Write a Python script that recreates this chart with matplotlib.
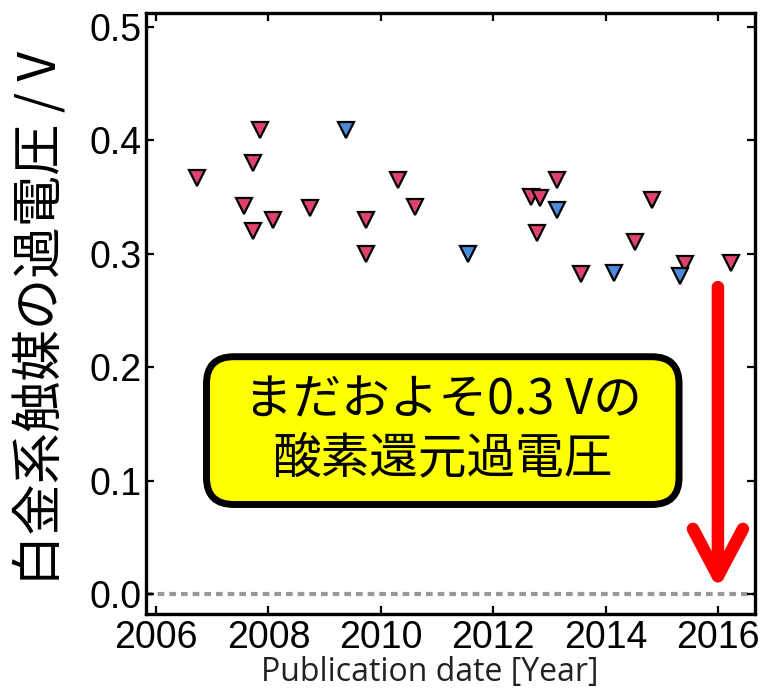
import matplotlib.pyplot as plt
from matplotlib.patches import FancyBboxPatch

# ---- data ----
pink_year = [2006.72, 2007.85, 2007.73, 2007.57, 2008.08, 2007.73, 2008.74,
             2010.31, 2010.61, 2009.74, 2009.74, 2013.13, 2012.67, 2012.83,
             2012.78, 2014.82, 2014.52, 2013.56, 2015.41, 2016.24]
pink_volt = [0.367, 0.409, 0.380, 0.342, 0.330, 0.320, 0.340,
             0.365, 0.341, 0.330, 0.300, 0.365, 0.350, 0.349,
             0.318, 0.347, 0.310, 0.282, 0.291, 0.292]
blue_year = [2009.38, 2011.55, 2013.13, 2014.15, 2015.32]
blue_volt = [0.409, 0.300, 0.338, 0.283, 0.280]

xticks = [2006, 2008, 2010, 2012, 2014, 2016]
yticks = [0.0, 0.1, 0.2, 0.3, 0.4, 0.5]
arrow_x = 2016
arrow_from = 0.2705
arrow_to = 0.004

ylabel = '白金系触媒の過電圧 / V'
xlabel = 'Publication date [Year]'
note = 'まだおよそ0.3 Vの\n酸素還元過電圧'

W, H = 767, 696
fig = plt.figure(figsize=(W / 100, H / 100), dpi=100)
ax = fig.add_axes([146 / W, 1 - 614 / H, 609 / W, 601 / H])

# zero line
ax.axhline(0.0, color='#999999', lw=3, linestyle=(0, (1.6, 1.2)), zorder=1)

ax.plot(pink_year, pink_volt, 'v', ms=12, mfc='#E0426E', mec='black', mew=1.6, zorder=3)
ax.plot(blue_year, blue_volt, 'v', ms=12, mfc='#4A8BDB', mec='black', mew=1.6, zorder=3)

ax.set_xlim(2005.82, 2016.66)
ax.set_ylim(-0.0176, 0.512)
ax.set_xticks(xticks)
ax.set_yticks(yticks)
ax.set_yticklabels([f'{v:.1f}' for v in yticks])
ax.tick_params(direction='in', length=6, width=1.6, top=True, right=True,
               labelsize=27, pad=4)
for lab in ax.get_xticklabels() + ax.get_yticklabels():
    lab.set_family('Liberation Sans')
ax.tick_params(axis='y', pad=3)
for s in ax.spines.values():
    s.set_linewidth(2.4)

# red arrow
ax.annotate('', xy=(arrow_x, arrow_to), xytext=(arrow_x, arrow_from),
            arrowprops=dict(arrowstyle='->,head_length=3.4,head_width=1.8',
                            color='#FF0000', lw=9, mutation_scale=10,
                            shrinkA=0, shrinkB=0, capstyle='round',
                            joinstyle='round'),
            zorder=4)

# yellow note box
box = FancyBboxPatch((0.0993, 0.1822), 0.776, 0.2459,
                     boxstyle='round,pad=0,rounding_size=0.045',
                     transform=ax.transAxes, fc='#FFFF00', ec='black',
                     lw=5, zorder=5)
ax.add_patch(box)
ax.text(0.4877, 0.306, note, transform=ax.transAxes, ha='center', va='center',
        multialignment='center', fontsize=35, linespacing=1.25,
        family=['Noto Sans CJK JP', 'DejaVu Sans'], zorder=6)

fig.text(42 / W, 1 - 318 / H, ylabel, rotation=90, ha='center', va='center',
         fontsize=37, family=['Noto Sans CJK JP', 'DejaVu Sans'])
fig.text(430 / W, 1 - 672 / H, xlabel, ha='center', va='center',
         fontsize=23, color='#222222', family='Open Sans')

fig.savefig('out.png', dpi=100)
